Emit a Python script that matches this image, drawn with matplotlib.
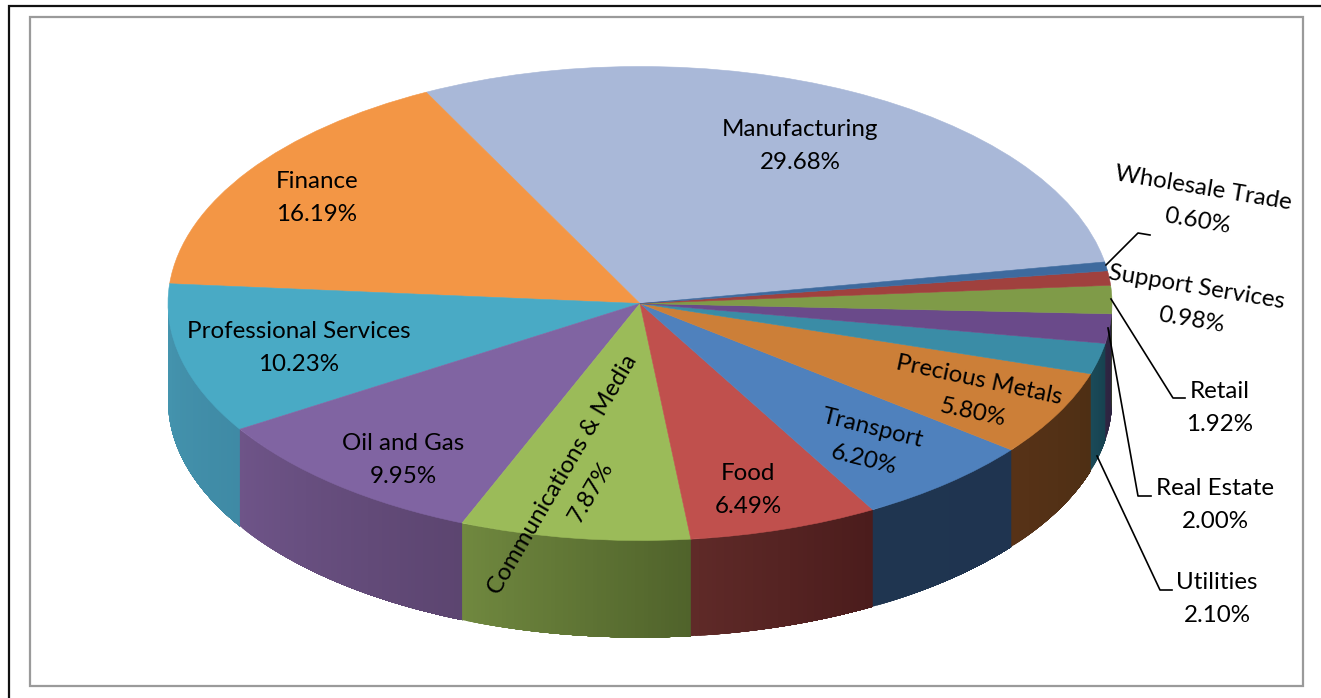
import matplotlib
matplotlib.use("Agg")
import matplotlib.pyplot as plt
import matplotlib.colors as mcolors
from matplotlib.patches import Rectangle
import numpy as np

plt.rcParams['font.family'] = ['Lato', 'DejaVu Sans']

sectors = ["Manufacturing", "Finance", "Professional Services", "Oil and Gas",
           "Communications & Media", "Food", "Transport", "Precious Metals",
           "Utilities", "Real Estate", "Retail", "Support Services", "Wholesale Trade"]
shares = [29.68, 16.19, 10.23, 9.95, 7.87, 6.49, 6.20, 5.80, 2.10, 2.00, 1.92, 0.98, 0.60]

top_colors = ["#a9b8d8", "#f39645", "#49aac5", "#8064a2", "#9bbb59", "#c0504d", "#4f81bd",
              "#cc7f38", "#3a8ca6", "#6a4a8a", "#7f9b48", "#a0413e", "#3e6a9e"]
# side wall shading, start and end of each slice's gradient
wall_from = ["#8793ad", "#c27838", "#4595af", "#6e5488", "#70883f", "#5f2a28", "#1f3550",
             "#573217", "#1a4a58", "#2f2642", "#3f4f20", "#4f201f", "#1f3550"]
wall_to = ["#8793ad", "#c27838", "#3f8aa5", "#5c4570", "#50632b", "#4b1c1c", "#1f3450",
           "#4e2f14", "#174250", "#2b2240", "#3f4f20", "#4f201f", "#1f3550"]

W, H = 1321, 698
cx, cy = 640, 303.5
rx, ry = 472, 237
depth = 97 / ry
start_angle = 10.1

fig = plt.figure(figsize=(W / 100, H / 100), dpi=100, facecolor="white")

# pie axes: one data unit is the radius of the tilted disc
ax = fig.add_axes([0, 0, 1, 1])
wedges, _ = ax.pie(shares, colors=top_colors, startangle=start_angle, counterclock=True,
                   radius=1, center=(0, 0), normalize=True,
                   wedgeprops={"linewidth": 0.4})
for w in wedges:
    w.set_edgecolor(w.get_facecolor())
    w.set_zorder(5)
ax.set_aspect("auto")
ax.set_xlim((0 - cx) / rx, (W - cx) / rx)
ax.set_ylim((cy - H) / ry, cy / ry)
ax.axis("off")

# side wall of the disc: each shaded band runs on to the slice end and the next paints over it
edges = start_angle + np.cumsum([0] + shares) * 3.6 / (sum(shares) / 100)
for i in range(len(shares)):
    a0, a1 = max(edges[i], 180), min(edges[i + 1], 360)
    if a1 <= a0:
        continue
    steps = np.linspace(a0, a1, max(int(a1 - a0) * 2, 3))
    c0 = np.array(mcolors.to_rgb(wall_from[i]))
    c1 = np.array(mcolors.to_rgb(wall_to[i]))
    for j in range(len(steps) - 1):
        t = np.radians(np.linspace(steps[j], a1, 200))
        xs = np.cos(t)
        ys = np.sin(t)
        c = c0 + (c1 - c0) * j / max(len(steps) - 2, 1)
        ax.fill(np.r_[xs, xs[::-1]], np.r_[ys, ys[::-1] - depth],
                facecolor=c, edgecolor="none", zorder=2)

# overlay in pixel coordinates for the frames, labels and leader lines
over = fig.add_axes([0, 0, 1, 1], facecolor="none")
over.set_xlim(0, W)
over.set_ylim(H, 0)
over.axis("off")

over.plot([9, 9, W], [H, 6, 6], color="#111111", lw=1.6, solid_joinstyle="miter")
over.add_patch(Rectangle((30, 17), 1273, 669, fill=False, edgecolor="#9a9a9a", lw=1.6))

label_pos = [(800, 146, 0), (317, 198, 0), (299, 348, 0), (403, 460, 0),
             (577, 483, 59.6), (748, 490, 0), (868, 444, -14), (976, 396, -12),
             (1217, 599, 0), (1215, 505, 0), (1220, 408, 0), (1194, 304, -9.5),
             (1200, 205, -9.5)]
for name, val, (x, y, rot) in zip(sectors, shares, label_pos):
    over.text(x, y, f"{name}\n{val:.2f}%", ha="center", va="center", rotation=rot,
              rotation_mode="anchor", fontsize=17.4, color="black", linespacing=1.72)

leaders = [[(1106, 265), (1138, 233), (1150, 235)],
           [(1111, 299), (1173, 398), (1185, 398)],
           [(1108, 328), (1138, 496), (1151, 496)],
           [(1097, 456), (1160, 590), (1172, 590)]]
for line in leaders:
    xs, ys = zip(*line)
    over.plot(xs, ys, color="black", lw=1.2)

fig.savefig("out.png", dpi=100)
